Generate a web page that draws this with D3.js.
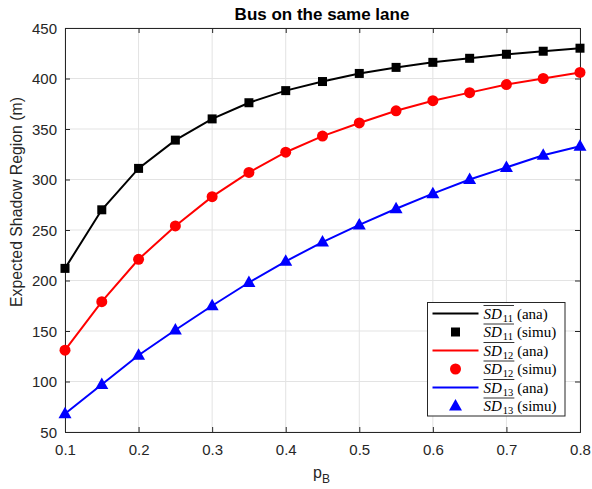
<!DOCTYPE html>
<html>
<head>
<meta charset="utf-8">
<script src="https://cdn.jsdelivr.net/npm/d3@7"></script>
<style>
  body { margin: 0; background: #fff; }
  text { font-family: "Liberation Sans", Arial, sans-serif; }
  .leg text { font-family: "Liberation Serif", "DejaVu Serif", serif; }
</style>
</head>
<body>
<svg id="chart" width="592" height="489"></svg>
<script>
// data
const pB = [0.1, 0.15, 0.2, 0.25, 0.3, 0.35, 0.4, 0.45, 0.5, 0.55, 0.6, 0.65, 0.7, 0.75, 0.8];
const sd11 = [212, 270, 311, 339, 360, 376, 388, 397, 405, 411, 416, 420, 424, 427, 430];
const sd12 = [131, 179, 221, 254, 283, 307, 327, 343, 356, 368, 378, 386, 394, 400, 406];
const sd13 = [68, 97, 126, 151, 175, 198, 219, 238, 255, 271, 286, 300, 312, 324, 333];
const xTicks = [0.1, 0.2, 0.3, 0.4, 0.5, 0.6, 0.7, 0.8];
const yTicks = [50, 100, 150, 200, 250, 300, 350, 400, 450];

const series = [
  { sub: "11", vals: sd11, color: "#000000", marker: "square" },
  { sub: "12", vals: sd12, color: "#ff0000", marker: "circle" },
  { sub: "13", vals: sd13, color: "#0000ff", marker: "triangle" }
];

const svg = d3.select("#chart");
const m = { left: 65, right: 580, top: 28, bottom: 432 };

const x = d3.scaleLinear().domain([0.1, 0.8]).range([m.left, m.right]);
const y = d3.scaleLinear().domain([50, 450]).range([m.bottom, m.top]);

// grid
svg.append("g").selectAll("line").data(xTicks).join("line")
  .attr("x1", d => x(d)).attr("x2", d => x(d))
  .attr("y1", m.top).attr("y2", m.bottom)
  .attr("stroke", "#e3e3e3").attr("stroke-width", 1);
svg.append("g").selectAll("line").data(yTicks).join("line")
  .attr("y1", d => y(d)).attr("y2", d => y(d))
  .attr("x1", m.left).attr("x2", m.right)
  .attr("stroke", "#e3e3e3").attr("stroke-width", 1);

// axes (ticks pointing inward, MATLAB style)
const axX = svg.append("g").attr("transform", `translate(0,${m.bottom})`)
  .call(d3.axisBottom(x).tickValues(xTicks).tickSize(-5).tickPadding(10).tickFormat(d3.format(".1f")));
const axY = svg.append("g").attr("transform", `translate(${m.left},0)`)
  .call(d3.axisLeft(y).tickValues(yTicks).tickSize(-5).tickPadding(8));
const axX2 = svg.append("g").attr("transform", `translate(0,${m.top})`)
  .call(d3.axisTop(x).tickValues(xTicks).tickSize(-5).tickFormat(""));
const axY2 = svg.append("g").attr("transform", `translate(${m.right},0)`)
  .call(d3.axisRight(y).tickValues(yTicks).tickSize(-5).tickFormat(""));
[axX, axY, axX2, axY2].forEach(a => {
  a.select(".domain").attr("stroke", "#262626").attr("stroke-width", 1);
  a.selectAll(".tick line").attr("stroke", "#262626");
  a.selectAll(".tick text").attr("fill", "#262626")
    .style("font-family", "'Liberation Sans', Arial, sans-serif").style("font-size", "15px");
});
axX.selectAll(".tick text").attr("dy", null).attr("y", 23);
axY.selectAll(".tick text").attr("x", -8).attr("dy", "0.36em");

// markers
function drawMarker(g, type, color) {
  if (type === "square") {
    g.append("rect").attr("x", -4.5).attr("y", -4.5).attr("width", 9).attr("height", 9).attr("fill", color);
  } else if (type === "circle") {
    g.append("circle").attr("r", 5.5).attr("fill", color);
  } else {
    g.append("path").attr("d", "M0,-7 L6.5,4.5 L-6.5,4.5 Z").attr("fill", color);
  }
}

const line = d3.line().x(d => x(d[0])).y(d => y(d[1]));
series.forEach(s => {
  const pts = pB.map((p, i) => [p, s.vals[i]]);
  svg.append("path").datum(pts).attr("d", line)
    .attr("fill", "none").attr("stroke", s.color).attr("stroke-width", 2);
  svg.append("g").selectAll("g").data(pts).join("g")
    .attr("transform", d => `translate(${x(d[0])},${y(d[1])})`)
    .each(function() { drawMarker(d3.select(this), s.marker, s.color); });
});

// title and labels
svg.append("text").attr("x", 322).attr("y", 20)
  .attr("text-anchor", "middle").style("font-weight", "bold").style("font-size", "17px")
  .attr("fill", "#000").text("Bus on the same lane");

svg.append("text")
  .attr("transform", `translate(22,202) rotate(-90)`)
  .attr("text-anchor", "middle").style("font-size", "15.8px").attr("fill", "#262626")
  .text("Expected Shadow Region (m)");

const xl = svg.append("text").attr("x", 313).attr("y", 478)
  .style("font-size", "16px").attr("fill", "#262626");
xl.append("tspan").text("p");
xl.append("tspan").attr("dy", 5).style("font-size", "12px").text("B");

// legend
const leg = svg.append("g").attr("class", "leg");
const lx = 427.5, ly = 302.5, lw = 137.5, lh = 113.5, rowH = 18.5;
leg.append("rect").attr("x", lx).attr("y", ly).attr("width", lw).attr("height", lh)
  .attr("fill", "#fff").attr("stroke", "#262626").attr("stroke-width", 1);

const entries = [];
series.forEach(s => {
  entries.push({ s, kind: "ana" });
  entries.push({ s, kind: "simu" });
});
entries.forEach((e, i) => {
  const cy = ly + 11 + i * rowH;
  const g = leg.append("g");
  if (e.kind === "ana") {
    g.append("line").attr("x1", lx + 5).attr("x2", lx + 51).attr("y1", cy).attr("y2", cy)
      .attr("stroke", e.s.color).attr("stroke-width", 2);
  } else {
    drawMarker(g.append("g").attr("transform", `translate(${lx + 28},${cy})`), e.s.marker, e.s.color);
  }
  const tx = lx + 56;
  const t = g.append("text").attr("x", tx).attr("y", cy + 5).style("font-size", "15px").attr("fill", "#000");
  const sd = t.append("tspan").style("font-style", "italic").text("SD");
  const sb = t.append("tspan").attr("dy", 3).style("font-size", "10.5px").attr("dx", 1).text(e.s.sub);
  const w = sd.node().getComputedTextLength() + sb.node().getComputedTextLength() + 2;
  t.append("tspan").attr("dy", -3).attr("dx", 4).text("(" + e.kind + ")");
  g.append("line").attr("x1", tx).attr("x2", tx + w).attr("y1", cy - 8).attr("y2", cy - 8)
    .attr("stroke", "#000").attr("stroke-width", 0.8);
});
</script>
</body>
</html>
